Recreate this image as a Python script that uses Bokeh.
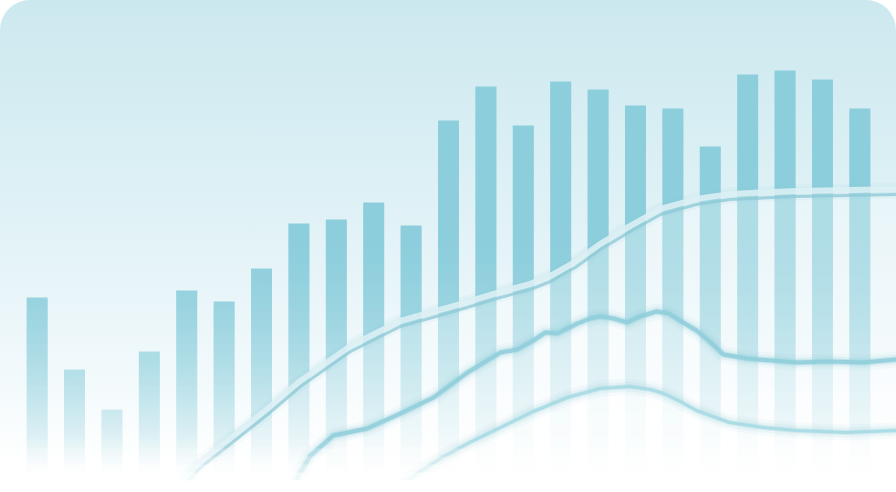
import numpy as np
from bokeh.plotting import figure
from bokeh.models import Range1d
from bokeh.embed import file_html
from bokeh.resources import INLINE

# ---------------- data ----------------
bar_index = list(range(1, 24))
bar_values = [48.75, 30.75, 20.75, 35.25, 50.5, 47.75, 56.0, 67.25, 68.25, 72.5,
              66.75, 93.0, 101.5, 91.75, 102.75, 100.75, 96.75, 96.0, 86.5,
              104.5, 105.5, 103.25, 96.0]

upper_x = [4.83, 5.37, 6.25, 7.16, 8.04, 9.38, 10.71, 12.05, 13.39, 14.19, 14.73,
           15.39, 16.06, 16.86, 17.67, 18.63, 19.54, 21.30, 22.75, 23.98]
upper_y = [1.75, 7.25, 13.75, 20.5, 27.5, 36.25, 42.5, 46.0, 49.75, 51.75, 53.75,
           57.25, 61.75, 66.25, 70.5, 73.0, 74.25, 75.0, 75.25, 75.5]

middle_x = [7.91, 8.31, 8.92, 9.83, 10.72, 11.60, 12.51, 13.39, 13.84, 14.27, 14.59,
            14.91, 15.45, 15.80, 16.06, 16.41, 16.78, 17.13, 17.56, 17.88, 18.18,
            18.63, 18.98, 19.35, 19.97, 21.30, 22.19, 23.09, 23.98]
middle_y = [3.0, 9.25, 14.25, 16.0, 19.75, 23.75, 30.0, 35.0, 35.75, 38.0, 40.0,
            39.75, 42.25, 43.5, 44.0, 43.5, 42.5, 44.0, 45.25, 44.75, 43.0,
            40.5, 37.75, 34.5, 33.5, 32.5, 32.75, 32.5, 33.25]

lower_x = [10.71, 11.17, 11.78, 12.51, 13.39, 14.27, 15.18, 16.06, 16.84, 17.40,
           17.75, 18.20, 18.63, 19.51, 20.42, 21.30, 22.64, 23.98]
lower_y = [1.75, 4.75, 8.5, 12.25, 16.25, 20.25, 23.75, 26.0, 26.5, 25.75,
           24.75, 22.75, 20.5, 17.5, 16.25, 15.5, 15.0, 15.5]

# ---------------- styling ----------------
W, H = 896, 492
YMAX = 123.0
ppu = H / YMAX

bg_stops = [(0.00, "#cce8ef"), (0.30, "#d9eff4"), (0.55, "#e6f4f8"),
            (0.78, "#f3fafc"), (0.94, "#ffffff"), (1.00, "#ffffff")]
BAR_RGB = np.array([0x8d, 0xce, 0xdc], dtype=float)


def hex2rgb(h):
    return np.array([int(h[i:i + 2], 16) for i in (1, 3, 5)], dtype=float)


def bg_rgb(py):
    f = min(max(py / H, 0.0), 1.0)
    for (f0, c0), (f1, c1) in zip(bg_stops[:-1], bg_stops[1:]):
        if f0 <= f <= f1:
            u = (f - f0) / (f1 - f0) if f1 > f0 else 0.0
            return hex2rgb(c0) * (1 - u) + hex2rgb(c1) * u
    return hex2rgb(bg_stops[-1][1])


def bar_alpha(py):
    t = np.clip((py - 230.0) / 250.0, 0, 1)
    return float(1.0 - t ** 1.6)


def to_hex(rgb):
    r, g, b = [int(round(min(max(c, 0), 255))) for c in rgb]
    return "#%02x%02x%02x" % (r, g, b)


css_grad = ", ".join("%s %d%%" % (c, int(f * 100)) for f, c in bg_stops)

p = figure(width=W, height=H, output_backend="svg", toolbar_location=None,
           x_range=Range1d(0.02, 23.98), y_range=Range1d(0, YMAX),
           min_border=0, min_border_left=0, min_border_right=0,
           min_border_top=0, min_border_bottom=0)
p.axis.visible = False
p.grid.visible = False
p.outline_line_color = None
p.background_fill_alpha = 0
p.border_fill_alpha = 0
p.styles = {
    "position": "absolute", "left": "0px", "top": "0px",
    "border-radius": "30px", "overflow": "hidden",
    "background": "linear-gradient(180deg, %s)" % css_grad,
}

# gradient bars: opaque slices (bar colour blended into the backdrop), each
# slightly overlapping the one below so that no seams show
lefts, rights, bottoms, tops, colors = [], [], [], [], []
half = 0.28
step = 0.75
for xi, v in zip(bar_index, bar_values):
    b = 0.0
    while b < v:
        t = min(b + step, v)
        py = H - ppu * (b + t) / 2
        a = bar_alpha(py)
        col = BAR_RGB * a + bg_rgb(py) * (1 - a)
        lefts.append(xi - half)
        rights.append(xi + half)
        bottoms.append(max(b - 0.3, 0.0))
        tops.append(t)
        colors.append(to_hex(col))
        b = t
p.quad(left=lefts, right=rights, bottom=bottoms, top=tops,
       fill_color=colors, fill_alpha=1.0, line_color=None)


def layer(xs, ys, veil, glow_col, main_col, main_w, main_a, hi=None):
    xs = list(xs)
    ys = list(ys)
    p.varea(x=[xs[0] - 0.01] + xs, y1=[0] * (len(xs) + 1),
            y2=[0] + ys, fill_color="white", fill_alpha=veil)
    for w, a in ((16, 0.07), (10, 0.12)):
        p.line(xs, ys, line_color=glow_col, line_width=w, line_alpha=a,
               line_join="round", line_cap="round")
    if hi is not None:
        p.line(xs, [y + 0.4 for y in ys], line_color=hi, line_width=6,
               line_alpha=0.85, line_join="round", line_cap="round")
        p.line(xs, [y - 1.0 for y in ys], line_color=main_col, line_width=main_w,
               line_alpha=main_a, line_join="round", line_cap="round")
    else:
        p.line(xs, ys, line_color=main_col, line_width=main_w + 2, line_alpha=0.35,
               line_join="round", line_cap="round")
        p.line(xs, ys, line_color=main_col, line_width=main_w, line_alpha=main_a,
               line_join="round", line_cap="round")


layer(upper_x, upper_y, 0.30, "#7fc3d2", "#8fcad7", 3, 0.75, hi="#def1f5")
layer(middle_x, middle_y, 0.38, "#7fc3d2", "#8fcedb", 4, 0.85)
layer(lower_x, lower_y, 0.62, "#8fcad7", "#a6d9e3", 3, 0.85)

# bottom fade to white (a few overlapping full-width bands)
fl, fr, fb, ft, fa = [], [], [], [], []
prev = 0.0
k = 13.0
while k > 0:
    b = k - 2.0
    py = H - ppu * (b + k) / 2
    target = float(np.clip((py - 440.0) / 42.0, 0, 1))
    target = max(target, prev)
    a = 1.0 - (1.0 - target) / (1.0 - prev) if prev < 1.0 else 0.0
    if a > 1e-3:
        fl.append(0.0); fr.append(24.0); fb.append(0.0); ft.append(k); fa.append(a)
    prev = target
    k = b
p.quad(left=fl, right=fr, bottom=fb, top=ft, fill_color="white",
       fill_alpha=fa, line_color=None)

open("out.html", "w").write(file_html(p, INLINE))
